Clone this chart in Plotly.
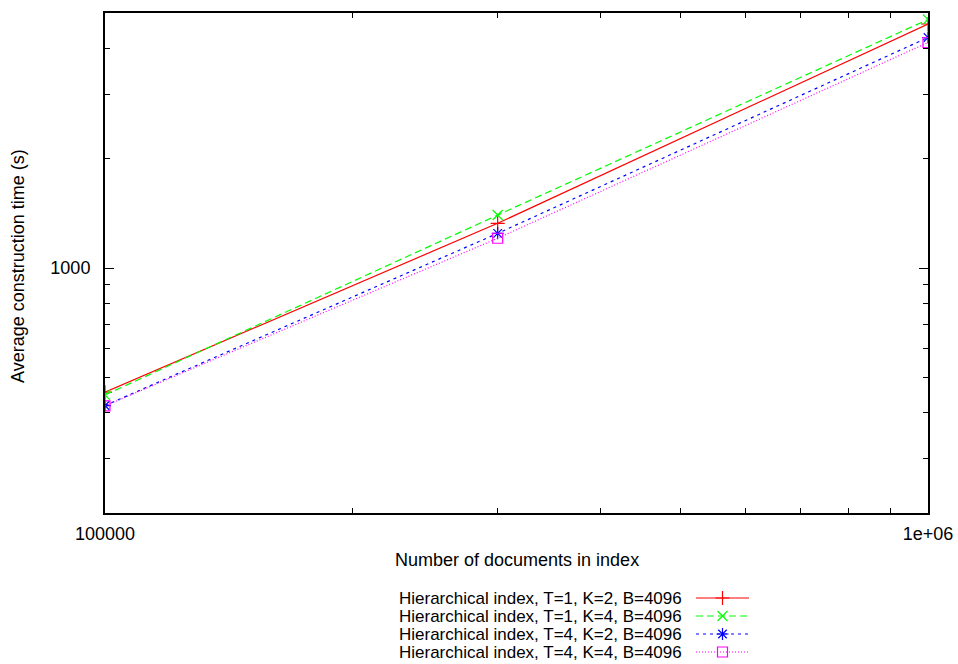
import plotly.graph_objects as go

# ---- data ----
docs = [100000, 300000, 1000000]
t1k2 = [456, 1327, 4680]
t1k4 = [448, 1398, 4816]
t4k2 = [419, 1245, 4298]
t4k4 = [418, 1207, 4164]

names = [
    "Hierarchical index, T=1, K=2, B=4096",
    "Hierarchical index, T=1, K=4, B=4096",
    "Hierarchical index, T=4, K=2, B=4096",
    "Hierarchical index, T=4, K=4, B=4096",
]
series = [t1k2, t1k4, t4k2, t4k4]
colors = ["#ff0000", "#00ff00", "#0000ff", "#ff00ff"]
dashes = ["solid", "7px,4px", "3px,4px", "1px,2px"]
symbols = ["cross-thin-open", "x-thin-open", "asterisk-open", "square-open"]

x_major = [100000, 1000000]
x_major_text = ["100000", "1e+06"]
x_minor = [200000, 300000, 400000, 500000, 600000, 700000, 800000, 900000]
y_major = [1000]
y_major_text = ["1000"]
y_minor = [300, 400, 500, 600, 700, 800, 900, 2000, 3000, 4000]

W, H = 958, 664
ML, MR, MT, MB = 105, 30, 13, 2
PW = W - ML - MR
PH = H - MT - MB


def py(pix):
    """pixel row -> paper y"""
    return min(1.0, max(0.0, (H - MB - pix) / PH))


def px(pix):
    return (pix - ML) / PW


FONT = dict(family="Liberation Sans, Arial, sans-serif", size=18, color="#000000")
LEG_FONT = dict(family="Liberation Sans, Arial, sans-serif", size=17, color="#000000")

fig = go.Figure()

for name, ys, c, d, s in zip(names, series, colors, dashes, symbols):
    fig.add_trace(go.Scatter(
        x=docs, y=ys, mode="lines+markers", name=name,
        line=dict(color=c, width=1.2, dash=d),
        marker=dict(symbol=s, size=10, color=c, line=dict(color=c, width=1.2)),
        showlegend=False, xaxis="x", yaxis="y",
    ))

# legend samples in a separate hidden axis
for i, (name, c, d, s) in enumerate(zip(names, colors, dashes, symbols)):
    fig.add_trace(go.Scatter(
        x=[0, 1], y=[i, i], mode="lines", line=dict(color=c, width=1.2, dash=d),
        showlegend=False, xaxis="x2", yaxis="y2", hoverinfo="skip",
    ))
    fig.add_trace(go.Scatter(
        x=[0.5], y=[i], mode="markers",
        marker=dict(symbol=s, size=10, color=c, line=dict(color=c, width=1.2)),
        showlegend=False, xaxis="x2", yaxis="y2", hoverinfo="skip",
    ))
    fig.add_annotation(
        text=name, xref="paper", yref="y2", x=px(684), y=i,
        xanchor="right", yanchor="middle", showarrow=False, font=LEG_FONT,
    )

axis_common = dict(
    showline=True, linecolor="#000000", linewidth=2, mirror="ticks",
    ticks="inside", ticklen=9, tickwidth=1, tickcolor="#000000",
    showgrid=False, zeroline=False, tickfont=FONT,
)

fig.update_layout(
    width=W, height=H,
    margin=dict(l=ML, r=MR, t=MT, b=MB),
    paper_bgcolor="white", plot_bgcolor="white",
    font=FONT,
    xaxis=dict(
        type="log", range=[5, 6], domain=[0, 1],
        tickmode="array", tickvals=x_major, ticktext=x_major_text,
        minor=dict(tickvals=x_minor, ticks="inside", ticklen=5, tickcolor="#000000", tickwidth=1),
        ticklabelstandoff=3,
        anchor="y",
        **axis_common,
    ),
    yaxis=dict(
        type="log", range=[2.327, 3.7005], domain=[py(513), 1],
        tickmode="array", tickvals=y_major, ticktext=y_major_text,
        minor=dict(tickvals=y_minor, ticks="inside", ticklen=5, tickcolor="#000000", tickwidth=1),
        ticklabelstandoff=9,
        anchor="x",
        **axis_common,
    ),
    xaxis2=dict(domain=[px(696), px(749)], range=[0, 1], visible=False, anchor="y2"),
    yaxis2=dict(domain=[py(661), py(589)], range=[3.5, -0.5], visible=False, anchor="x2"),
)

fig.add_annotation(
    text="Number of documents in index", xref="paper", yref="paper",
    x=0.5, y=py(560), xanchor="center", yanchor="middle", showarrow=False, font=FONT,
)
fig.add_annotation(
    text="Average construction time (s)", xref="paper", yref="paper",
    x=px(18), y=py(266), xanchor="center", yanchor="middle", textangle=-90,
    showarrow=False, font=FONT,
)

fig.write_html("out.html")
